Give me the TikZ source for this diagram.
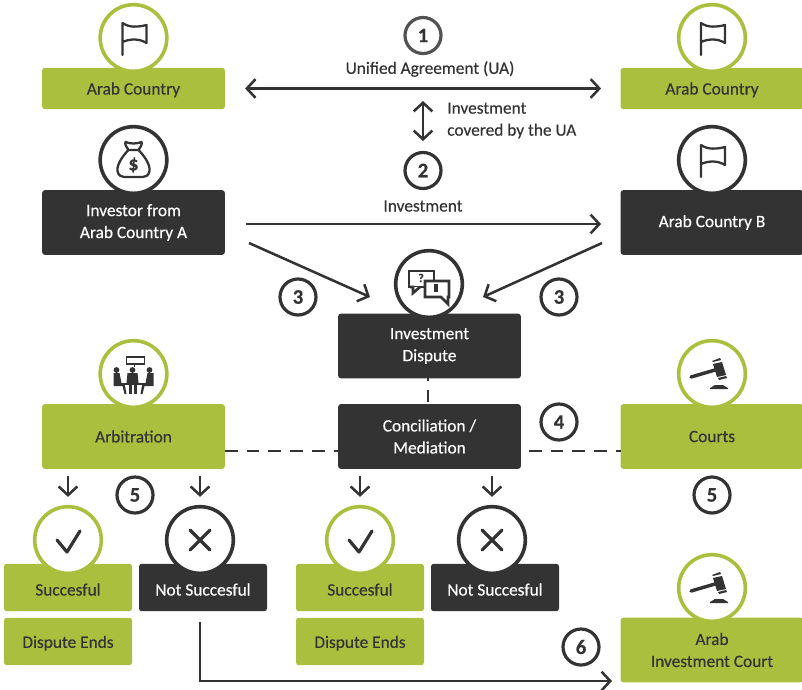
\documentclass[tikz,border=0pt]{standalone}
\usepackage{fontspec}
\setmainfont{Carlito}[RawFeature={embolden=0.35}]
\usetikzlibrary{calc}
\usetikzlibrary{arrows.meta}
\definecolor{leaf}{HTML}{ABBF3E}
\definecolor{ink}{HTML}{333333}
\tikzset{
    box/.style={rectangle, rounded corners=2pt, align=center, inner sep=0pt, font=\fontsize{13}{16.5}\selectfont},
    leafbox/.style={box, fill=leaf, text=ink},
    inkbox/.style={box, fill=ink, text=white},
    tallsize/.style={minimum width=137pt, minimum height=48.5pt},
    lowsize/.style={minimum width=137pt, minimum height=31pt, text height=9pt, text depth=0pt},
    smallsize/.style={minimum width=96pt, minimum height=35.5pt, text height=12pt, text depth=0pt},
    endsize/.style={minimum width=96pt, minimum height=35.5pt, text height=9.5pt, text depth=0pt},
    ring/.style={circle, fill=white, line width=2.7pt, minimum size=50pt, inner sep=0pt},
    leafring/.style={ring, draw=leaf},
    inkring/.style={ring, draw=ink},
    num/.style={circle, draw=ink, fill=white, text=ink, line width=2.4pt, minimum size=27pt, inner sep=0pt, font=\fontsize{15.5}{15.5}\selectfont\bfseries},
    lab/.style={text=ink, inner sep=0pt, font=\fontsize{13}{16.5}\selectfont},
    conn/.style={draw=ink, line width=1.9pt},
    arr/.style={conn, -{Straight Barb[length=6.5pt,width=14pt,line width=1.9pt]}},
    twoway/.style={conn, {Straight Barb[length=6.5pt,width=14pt,line width=1.9pt]}-{Straight Barb[length=6.5pt,width=14pt,line width=1.9pt]}},
    dashline/.style={conn, line width=2.2pt, dash pattern=on 9.5pt off 6.8pt},
    icon/.style={draw=ink, line width=1.7pt, line cap=round, line join=round},
    flag/.pic={
        \draw[icon] (-11,17) -- (-11,-15) .. controls (-4,-10) and (5,-11) .. (13,-13) -- (13,5) .. controls (5,0) and (-4,1) .. (-11,4);
    },
    bag/.pic={
        \draw[icon] (-5,-10) .. controls (-7,-13) and (-9,-16) .. (-8,-18) .. controls (-3,-16) and (3,-16) .. (8,-18) .. controls (9,-16) and (7,-13) .. (5,-10) -- cycle;
        \draw[icon] (-5,-10) .. controls (-11,-4) and (-17,5) .. (-16,11) .. controls (-15,16) and (-12,17) .. (-9,17) -- (9,17) .. controls (12,17) and (15,16) .. (16,11) .. controls (17,5) and (11,-4) .. (5,-10);
        \node[text=ink, inner sep=0pt, font=\fontsize{15}{15}\selectfont\bfseries] (bagsign) at (0,5) {\$};
    },
    talk/.pic={
        \draw[icon, line width=2pt, line cap=butt, line join=miter, fill=white] (-20,-13) rectangle (5,3);
        \draw[icon, line width=2pt, line cap=butt, line join=miter, fill=white] (-19,3) -- (-16,3) -- (-16,9) -- (-9,3);
        \node[text=ink, inner sep=0pt, font=\fontsize{9}{9}\selectfont\bfseries] (talkask) at (-8,-6) {?};
        \draw[icon, line width=2pt, line cap=butt, line join=miter, fill=white] (-4,-3) -- (20,-3) -- (20,13) -- (19,13) -- (19,20) -- (12,13) -- (-4,13) -- cycle;
        \draw[ink, line width=2.6pt] (7,0) -- (7,8);
    },
    meet/.pic={
        \draw[draw=ink, line width=1.2pt] (-7,-17) rectangle (11,-10);
        \draw[draw=ink, line width=.7pt] (1,-10) -- (1,-7);
        \fill[ink] (-17,-4) circle (2.9) (-1,-4) circle (2.9) (16,-4) circle (2.9);
        \fill[ink] (-20,-1) -- (-14,-1) -- (-12,9) -- (-9,9) -- (-7,20) -- (-9,20) -- (-11,12) -- (-20,12) -- cycle;
        \fill[ink] (20,-1) -- (14,-1) -- (12,9) -- (9,9) -- (7,20) -- (9,20) -- (11,12) -- (20,12) -- cycle;
        \fill[ink] (-6,-1) -- (4,-1) -- (5,9) -- (-7,9) -- cycle;
        \draw[ink, line width=1.4pt] (-11,10) -- (12,10);
        \draw[ink, line width=1.6pt] (-3,10) -- (-3,20) (2,10) -- (2,20);
    },
    gavel/.pic={
        \draw[ink, line width=2.6pt, line cap=round] (-21,3) -- (3,-4);
        \fill[ink] (1,-10) -- (10,-12) -- (14,1) -- (5,3) -- cycle;
        \fill[ink] (0,-13) -- (8,-16) -- (9,-14) -- (1,-12) -- cycle;
        \fill[ink] (6,4) -- (14,2) -- (15,4) -- (7,6) -- cycle;
        \fill[ink] (-2,15) -- (16,15) -- (16,14) -- (11,11) -- (3,11) -- (-2,14) -- cycle;
    },
    tick/.pic={
        \draw[icon, line width=2.4pt] (-11,0) -- (-1,12) -- (12,-9);
    },
    cross/.pic={
        \draw[icon, line width=2.4pt] (-10,-10) -- (10,10) (-10,10) -- (10,-10);
    },
}
\begin{document}
\begin{tikzpicture}[x=.75pt, y=-.75pt]
    \useasboundingbox (0,0) rectangle (802,689);
    % boxes
    \node[leafbox, lowsize] (arabL) at (133.5,88.5) {Arab Country};
    \node[leafbox, lowsize] (arabR) at (712,88.5) {Arab Country};
    \node[inkbox, tallsize] (investor) at (133.5,222.5) {Investor from\\Arab Country A};
    \node[inkbox, tallsize] (countryB) at (712,222.5) {Arab Country B};
    \node[inkbox, tallsize] (dispute) at (429.5,346) {Investment\\Dispute};
    \node[inkbox, tallsize] (concil) at (429.5,436.5) {Conciliation /\\Mediation};
    \node[leafbox, tallsize] (arbitr) at (133.5,436.5) {Arbitration};
    \node[leafbox, tallsize] (courts) at (712,436.5) {Courts};
    \node[leafbox, tallsize] (court) at (712,650) {Arab\\Investment Court};
    \node[leafbox, smallsize] (okA) at (68,587.5) {Succesful};
    \node[leafbox, endsize] (endA) at (68,641.5) {Dispute Ends};
    \node[inkbox, smallsize] (noA) at (203,587.5) {Not Succesful};
    \node[leafbox, smallsize] (okB) at (360,587.5) {Succesful};
    \node[leafbox, endsize] (endB) at (360,641.5) {Dispute Ends};
    \node[inkbox, smallsize] (noB) at (495,587.5) {Not Succesful};
    % rings
    \node[leafring] (ringL) at (133.5,38) {};
    \node[leafring] (ringR) at (712,38) {};
    \node[inkring] (ringInv) at (133.5,160) {};
    \node[inkring] (ringB) at (712,160) {};
    \node[inkring] (ringDis) at (429,284) {};
    \node[leafring] (ringArb) at (133.5,374) {};
    \node[leafring] (ringCou) at (712,374) {};
    \node[leafring] (ringCourt) at (712,588) {};
    \node[leafring] (ringOkA) at (68,540) {};
    \node[inkring] (ringNoA) at (200,540) {};
    \node[leafring] (ringOkB) at (360,540) {};
    \node[inkring] (ringNoB) at (492,540) {};
    % icons
    \pic at (ringL) {flag};
    \pic at (ringR) {flag};
    \pic at (ringB) {flag};
    \pic at (ringInv) {bag};
    \pic at (ringDis) {talk};
    \pic at (ringArb) {meet};
    \pic at (ringCou) {gavel};
    \pic at (ringCourt) {gavel};
    \pic at (ringOkA) {tick};
    \pic at (ringOkB) {tick};
    \pic at (ringNoA) {cross};
    \pic at (ringNoB) {cross};
    % numbers
    \node[num, draw=ink!85] (one) at (423,35.5) {1};
    \node[num] (two) at (423,170.5) {2};
    \node[num] (threeL) at (298,297) {3};
    \node[num] (threeR) at (559,297) {3};
    \node[num] (four) at (559,422) {4};
    \node[num] (fiveL) at (135,495) {5};
    \node[num] (fiveR) at (712,495) {5};
    \node[num] (six) at (581,647) {6};
    % labels
    \node[lab] (ua) at (430,69) {Unified Agreement (UA)};
    \node[lab, align=left, anchor=west] (covered) at (447,120.5) {Investment\\covered by the UA};
    \node[lab] (inv) at (423,206) {Investment};
    % free ends
    \coordinate (covT) at (423,101);
    \coordinate (covB) at (423,141);
    \coordinate (invA) at (246,224);
    \coordinate (invB) at (601,224);
    \coordinate (invL) at (249,243);
    \coordinate (invD) at (370,297);
    \coordinate (bL) at (602,243);
    \coordinate (bD) at (483,297);
    \coordinate (elbowT) at (200,622);
    \coordinate (elbowC) at (200,681);
    \coordinate (elbowE) at (612,681);
    \coordinate (disB) at (428,378);
    \coordinate (conT) at (428,404);
    \coordinate (dashA) at (225,451);
    \coordinate (dashB) at (338,451);
    \coordinate (dashC) at (529,451);
    \coordinate (dashD) at (621,451);
    \coordinate (downA) at (68,476);
    \coordinate (downB) at (200,476);
    \coordinate (downC) at (360,476);
    \coordinate (downD) at (492,476);
    % connectors
    \draw[twoway, shorten <=15pt, shorten >=14.5pt] (arabL) -- (arabR);
    \draw[twoway] (covT) -- (covB);
    \draw[arr] (invA) -- (invB);
    \draw[arr] (invL) -- (invD);
    \draw[arr] (bL) -- (bD);
    \draw[dashline, dash phase=7.5pt] (disB) -- (conT);
    \draw[dashline] (dashA) -- (dashB);
    \draw[dashline] (dashC) -- (dashD);
    \draw[arr, shorten >=6pt] (downA) -- (ringOkA);
    \draw[arr, shorten >=6pt] (downB) -- (ringNoA);
    \draw[arr, shorten >=6pt] (downC) -- (ringOkB);
    \draw[arr, shorten >=6pt] (downD) -- (ringNoB);
    \draw[arr] (elbowT) -- (elbowC) -- (elbowE);
\end{tikzpicture}
\end{document}
